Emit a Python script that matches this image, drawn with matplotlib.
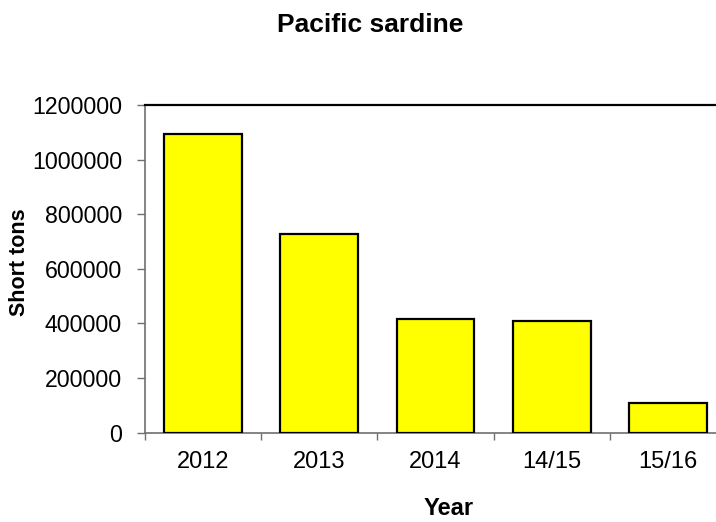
import matplotlib
matplotlib.use("Agg")
import matplotlib.pyplot as plt
import numpy as np

# Pacific sardine landings by season
years = ["2012", "2013", "2014", "14/15", "15/16"]
short_tons = [1093000, 726500, 416500, 409000, 108000]
y_ticks = [0, 200000, 400000, 600000, 800000, 1000000, 1200000]

W, H = 716, 522
fig = plt.figure(figsize=(W / 100, H / 100), dpi=100)
plt.rcParams["font.family"] = ["Liberation Sans", "DejaVu Sans"]

left, right, top, bottom = 145, 726, 105, 432.7
ax = fig.add_axes([left / W, 1 - bottom / H, (right - left) / W, (bottom - top) / H])

x = np.arange(len(years))
ax.bar(x, short_tons, width=0.67, color="#FFFF00", edgecolor="black", linewidth=1.6, zorder=3)

ax.set_xlim(-0.5, len(years) - 0.5)
ax.set_ylim(0, 1200000)

# category labels centred, tick marks between categories
ax.set_xticks(x)
ax.set_xticklabels(years, fontsize=17)
ax.set_xticks(np.arange(-0.5, len(years)), minor=True)
ax.tick_params(axis="x", which="major", length=0, pad=13)
ax.tick_params(axis="x", which="minor", length=5, width=1, color="#707070", direction="out")

ax.set_yticks(y_ticks)
ax.set_yticklabels([str(v) for v in y_ticks], fontsize=16.7)
ax.tick_params(axis="y", length=5.5, width=1, color="#707070", pad=11, direction="out")

for side in ["left", "bottom"]:
    ax.spines[side].set_color("#707070")
    ax.spines[side].set_linewidth(1.2)
ax.spines["top"].set_color("black")
ax.spines["top"].set_linewidth(1.6)
ax.spines["right"].set_visible(False)

fig.text(370.5 / W, 1 - 31.7 / H, "Pacific sardine", fontsize=19, fontweight="bold",
         ha="center", va="baseline")
fig.text(449 / W, 1 - 515 / H, "Year", fontsize=17, fontweight="bold",
         ha="center", va="baseline")
fig.text(20 / W, 1 - 262.5 / H, "Short tons", fontsize=15.5, fontweight="bold",
         ha="center", va="center", rotation=90)

fig.savefig("out.png", dpi=100)
